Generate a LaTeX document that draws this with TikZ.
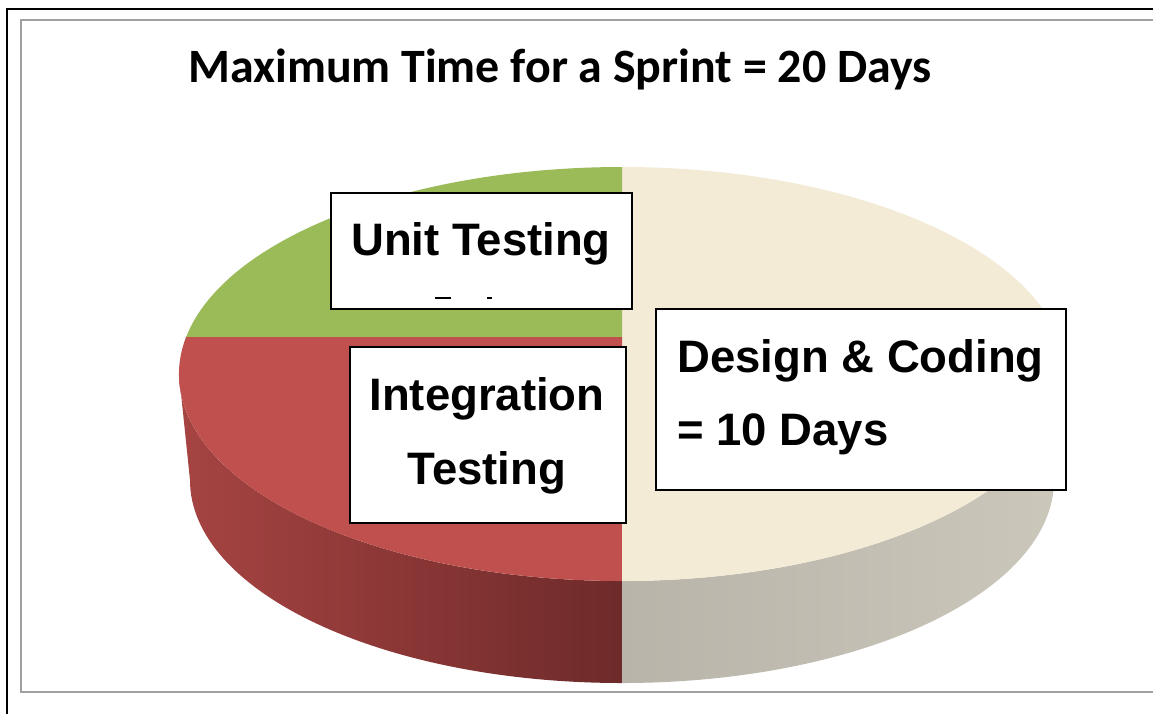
\documentclass[tikz,border=0pt]{standalone}
\usepackage{fontspec}
\newfontfamily\titlefont{Carlito}
\newfontfamily\boxfont{Liberation Sans}
\definecolor{pgreen}{HTML}{9BBB59}
\definecolor{pred}{HTML}{C0504D}
\definecolor{predL}{HTML}{A64442}
\definecolor{predR}{HTML}{6E2A2A}
\definecolor{pbeige}{HTML}{F3EBD6}
\definecolor{pgrayL}{HTML}{B9B4A9}
\definecolor{pgrayR}{HTML}{CCC7BB}
\definecolor{frame}{HTML}{A0A0A0}
\begin{document}
\begin{tikzpicture}[x=1pt,y=1pt,
  labelbox/.style={draw=black,fill=white,line width=1.8pt,inner sep=0pt},
  boxtext/.style={inner sep=0pt,font=\boxfont\bfseries\fontsize{45.5}{54}\selectfont},
  topell/.style={x radius=443pt,y radius=207pt},
  botell/.style={x radius=432pt,y radius=203pt}]
\useasboundingbox (0,0) rectangle (1153,-713);
\clip (0,0) rectangle (1153,-713);
\fill[white] (0,0) rectangle (1153,-713);
% frames
\draw[line width=2pt] (1170,-9) -- (7,-9) -- (7,-730);
\draw[frame,line width=1.5pt] (1170,-20) -- (21,-20) -- (21,-692) -- (1170,-692);
% title
\node[anchor=base west,inner sep=0pt,font=\titlefont\bfseries\fontsize{47.9}{56}\selectfont] (title) at (188,-82) {Maximum Time for a Sprint = 20 Days};
% pie sides
\shade[left color=predL,right color=predR]
  (179,-374) -- (190,-480) arc[start angle=180,end angle=270,botell]
  -- (622,-581) arc[start angle=270,end angle=180,topell] -- cycle;
\shade[left color=pgrayL,right color=pgrayR]
  (622,-683) arc[start angle=270,end angle=360,botell]
  -- (1065,-374) arc[start angle=0,end angle=-90,topell] -- cycle;
% pie top
\fill[pbeige] (622,-167) arc[start angle=90,end angle=-90,topell] -- cycle;
\fill[pgreen] (622,-337) -- (622,-167) arc[start angle=90,end angle=169.7,topell] -- cycle;
\fill[pred] (622,-337) -- (186.1,-337) arc[start angle=169.7,end angle=270,topell] -- cycle;
% label boxes
\node[labelbox,minimum width=301pt,minimum height=116pt] (unit) at (481.5,-251) {};
\node[boxtext,anchor=base] (unitt) at (481,-255) {Unit Testing};
\draw[line width=2.5pt] (435,-298) -- (451,-298);
\draw[line width=2.5pt] (487,-298) -- (492,-298);
\node[labelbox,minimum width=276pt,minimum height=176pt] (integ) at (488,-435) {};
\node[boxtext,anchor=base] (integt1) at (487,-410) {Integration};
\node[boxtext,anchor=base] (integt2) at (487,-484) {Testing};
\node[labelbox,minimum width=410pt,minimum height=181pt] (design) at (861,-399.5) {};
\node[boxtext,anchor=base west] (designt1) at (677,-372) {Design \& Coding};
\node[boxtext,anchor=base west] (designt2) at (677,-445) {= 10 Days};
\end{tikzpicture}
\end{document}
